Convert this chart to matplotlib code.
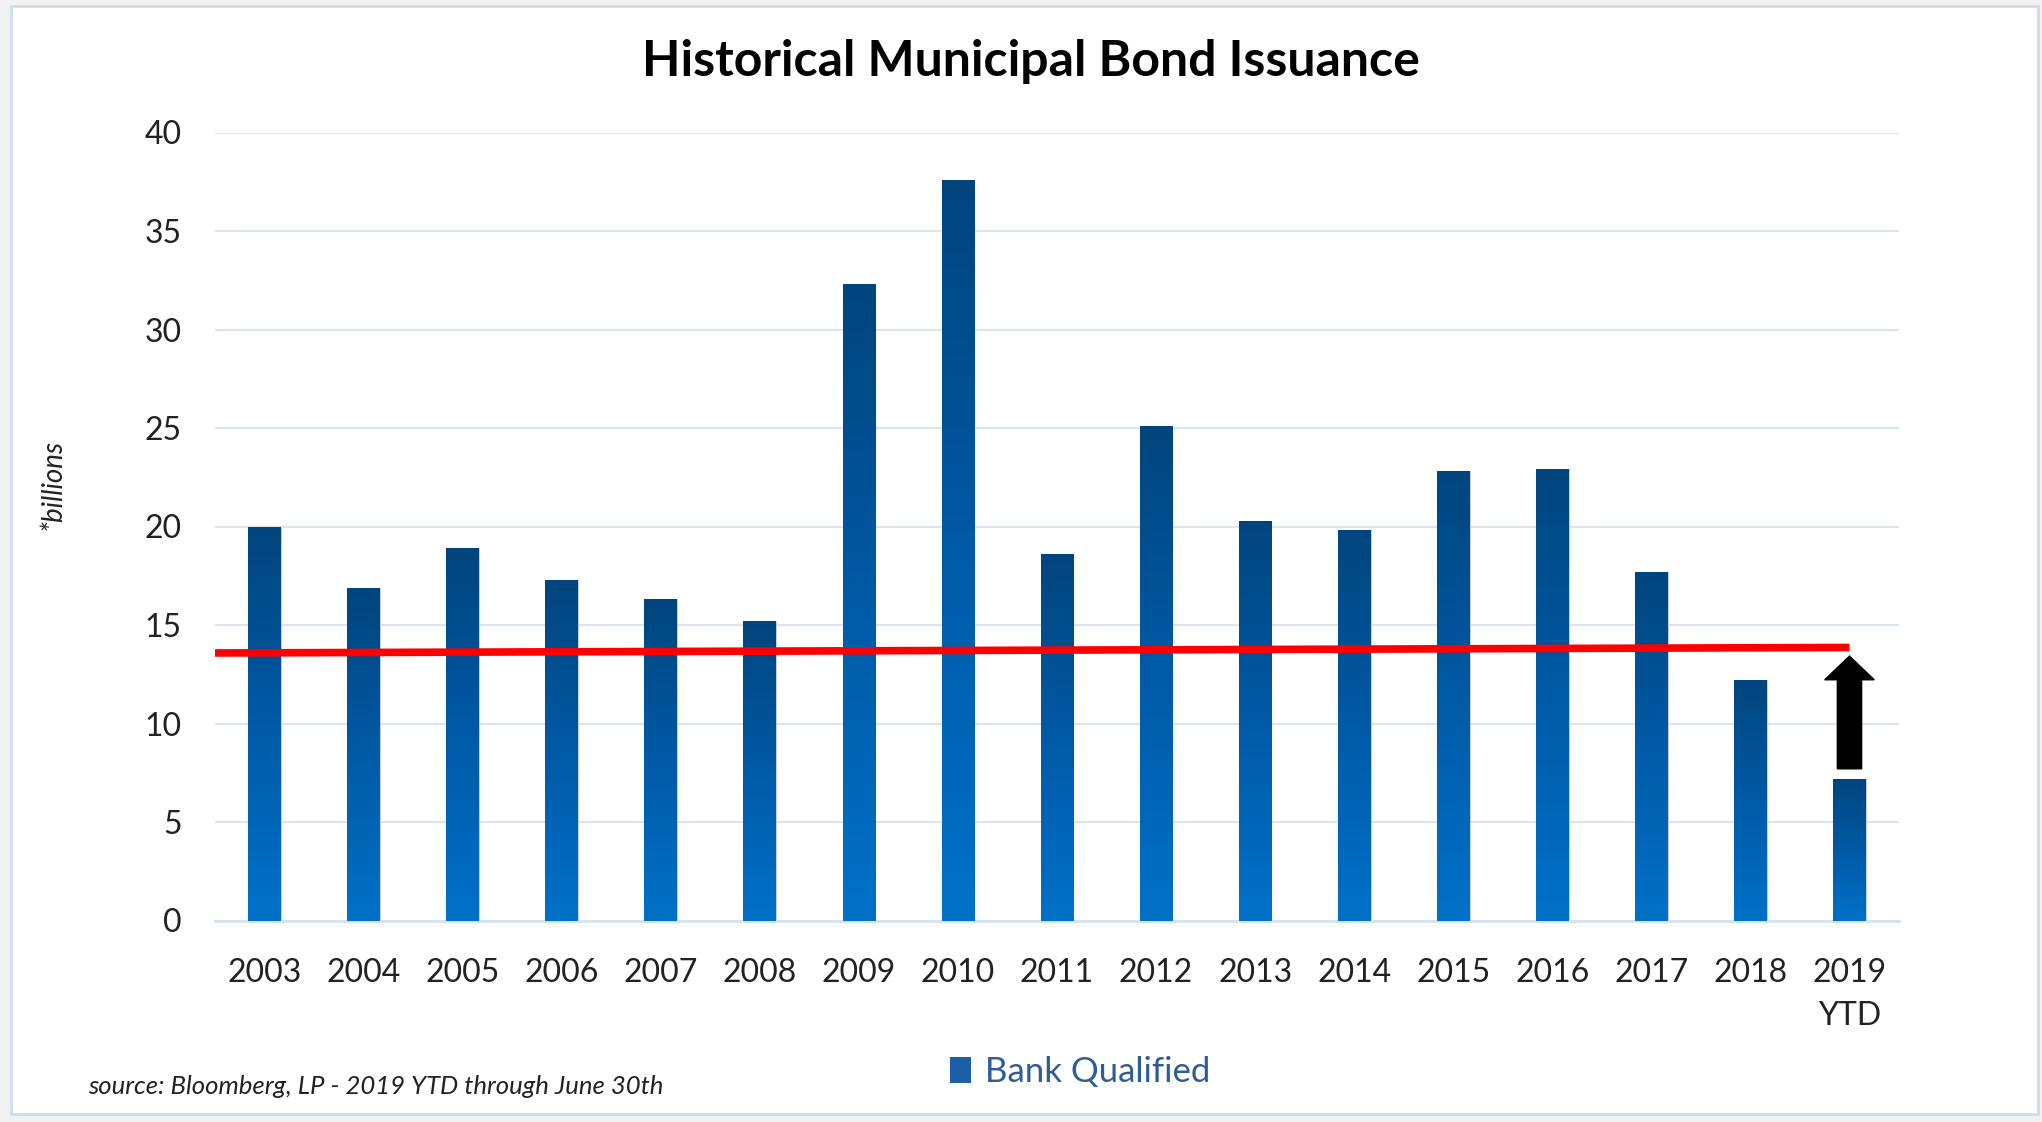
import numpy as np
import matplotlib
matplotlib.use('Agg')
import matplotlib.pyplot as plt
from matplotlib.colors import LinearSegmentedColormap
from matplotlib.patches import Patch, Rectangle

plt.rcParams['font.family'] = ['Lato', 'DejaVu Sans']

# bank qualified issuance, $ billions
years = ['2003', '2004', '2005', '2006', '2007', '2008', '2009', '2010', '2011',
         '2012', '2013', '2014', '2015', '2016', '2017', '2018', '2019\nYTD']
issuance = [20.0, 16.9, 18.9, 17.3, 16.3, 15.2, 32.3, 37.6, 18.6,
            25.1, 20.3, 19.8, 22.8, 22.9, 17.7, 12.2, 7.2]
# red reference line endpoints (x in category units, y in billions)
ref_x = [-0.5, 16.0]
ref_y = [13.58, 13.86]
yticks = [0, 5, 10, 15, 20, 25, 30, 35, 40]

fig = plt.figure(figsize=(20.42, 11.22), dpi=100)
fig.patch.set_facecolor('#f2f2f2')

# white card with a faint blue edge
fig.patches.append(Rectangle((11 / 2042, 8 / 1122), 2027 / 2042, 1108 / 1122,
                             transform=fig.transFigure, facecolor='white',
                             edgecolor='#cfdcee', linewidth=2, zorder=-10))

ax = fig.add_axes([215 / 2042, 1 - 920.5 / 1122, 1684 / 2042, 788 / 1122])
x = np.arange(len(years))
width = 0.33

cmap = LinearSegmentedColormap.from_list('bq', ['#0071c8', '#005aa6', '#00457d'])
grad = np.linspace(0, 1, 256).reshape(-1, 1)

bars = ax.bar(x, issuance, width=width, facecolor='none',
              edgecolor='#c9ced6', linewidth=0.8, zorder=2)
for bar in bars:
    bx, bw, bh = bar.get_x(), bar.get_width(), bar.get_height()
    im = ax.imshow(grad, cmap=cmap, aspect='auto', origin='lower',
                   extent=[bx, bx + bw, 0, bh], zorder=3)
    im.set_clip_path(bar)

ax.plot(ref_x, ref_y, color='#ff0000', linewidth=5.5, solid_capstyle='butt',
        zorder=5, clip_on=False)

# arrow pointing from the YTD bar up to the line
ax.arrow(16, 7.7, 0, 13.42 - 7.7, width=0.245, head_width=0.5, head_length=1.2,
         length_includes_head=True, color='black', zorder=6)

ax.set_xlim(-0.5, len(years) - 0.5)
ax.set_ylim(0, 40)
ax.set_yticks(yticks)
ax.set_xticks(x)
ax.set_xticklabels(years, linespacing=1.55)
ax.grid(axis='y', color='#dae5f2', linewidth=1.5, zorder=0)
ax.set_axisbelow(True)
for side in ['top', 'right', 'left']:
    ax.spines[side].set_visible(False)
ax.spines['bottom'].set_color('#d5e1f0')
ax.spines['bottom'].set_linewidth(2)
ax.tick_params(axis='both', length=0, labelsize=23, colors='#222222')
ax.tick_params(axis='y', pad=24)
ax.tick_params(axis='x', pad=27)

fig.text(1031 / 2042, 1 - 62 / 1122, 'Historical Municipal Bond Issuance',
         ha='center', va='center', fontsize=36, fontweight='bold', color='black')
fig.text(53 / 2042, 1 - 484 / 1122, '*billions', rotation=90, ha='center',
         va='center', fontsize=20, style='italic', color='#222222')
fig.text(88 / 2042, 1 - 1086 / 1122, 'source: Bloomberg, LP - 2019 YTD through June 30th',
         ha='left', va='center', fontsize=18.5, style='italic', color='#222222')

fig.legend(handles=[Patch(facecolor='#1c5fa6', label='Bank Qualified')],
           loc='center', bbox_to_anchor=(1080 / 2042, 1 - 1072 / 1122),
           frameon=False, fontsize=25, labelcolor='#2e5c95',
           handlelength=0.6, handleheight=0.8, handletextpad=0.4)

fig.savefig('out.png', dpi=100, facecolor=fig.get_facecolor())
